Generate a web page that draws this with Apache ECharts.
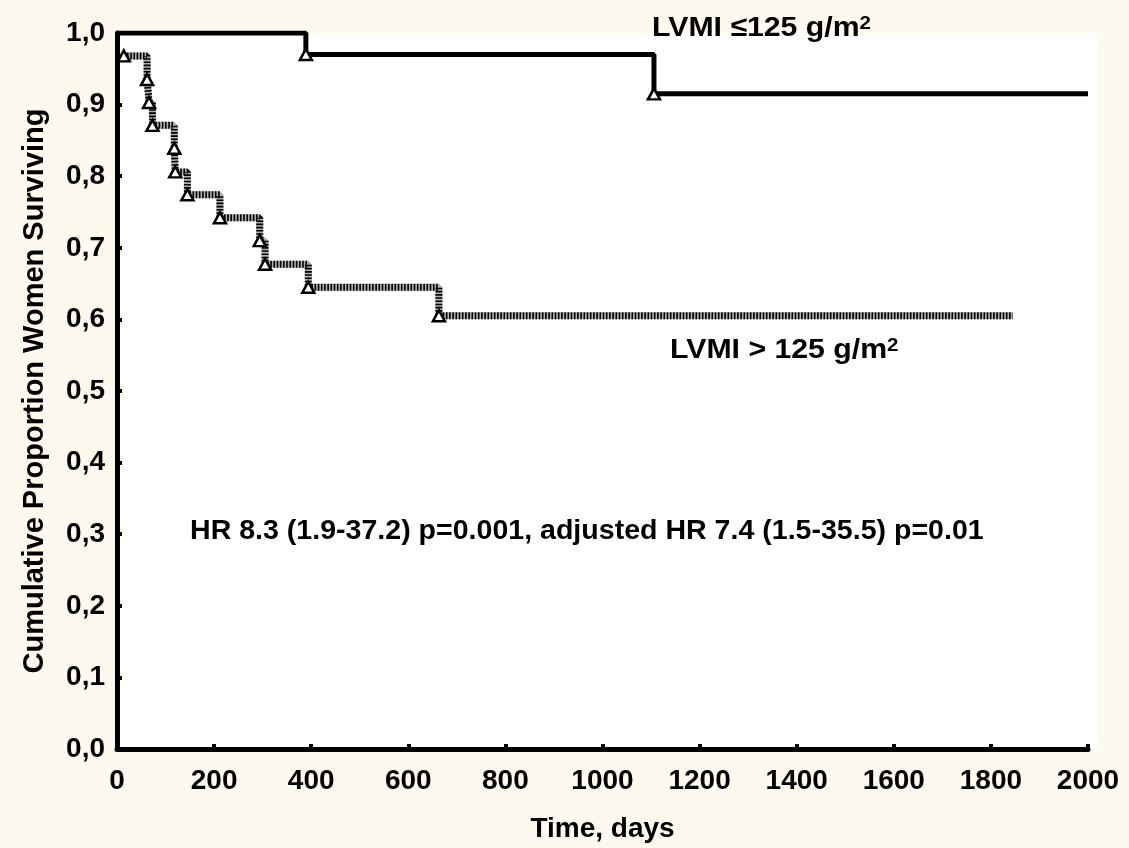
<!DOCTYPE html>
<html>
<head>
<meta charset="utf-8">
<script src="https://cdn.jsdelivr.net/npm/echarts@6/dist/echarts.min.js"></script>
<style>
  html, body { margin: 0; padding: 0; background: #fef9ee; }
  #chart { width: 1129px; height: 848px; }
</style>
</head>
<body>
<div id="chart"></div>
<script>
// LVMI <= 125 g/m2
const lowDays = [0, 389, 1106, 2000]
const lowSurv = [1.0, 0.97, 0.915, 0.915]
const lowEvent = [false, true, true, false]

// LVMI > 125 g/m2
const highDays = [14, 62, 66, 73, 118, 120, 145, 212, 294, 305, 394, 663, 1845]
const highSurv = [0.968, 0.935, 0.903, 0.871, 0.839, 0.806, 0.774, 0.742, 0.71, 0.677, 0.645, 0.605, 0.605]
const highEvent = [true, true, true, true, true, true, true, true, true, true, true, true, false]

const font = 'Liberation Sans, Arial, sans-serif'

const toData = (days, surv, ev) => days.map((d, i) => ({
  value: [d, surv[i]],
  symbol: ev[i] ? 'triangle' : 'none'
}))

const markerStyle = {
  color: '#fff',
  borderColor: '#000',
  borderWidth: 2.5
}

const labelRich = {
  t: { fontFamily: font, fontWeight: 'bold', fontSize: 28, fill: '#000' },
  s: { fontFamily: font, fontWeight: 'bold', fontSize: 19, fill: '#000', verticalAlign: 'top' }
}

const chart = echarts.init(document.getElementById('chart'))

const option = {
  backgroundColor: '#fef9ee',
  animation: false,
  grid: {
    left: 117,
    right: 41,
    top: 33,
    bottom: 99,
    show: true,
    backgroundColor: '#fff',
    borderWidth: 0
  },
  xAxis: {
    type: 'value',
    min: 0,
    max: 2000,
    interval: 200,
    name: 'Time, days',
    nameLocation: 'middle',
    nameGap: 66,
    nameTextStyle: { fontFamily: font, fontWeight: 'bold', fontSize: 28, color: '#000' },
    axisLine: { lineStyle: { color: '#000', width: 5 } },
    axisTick: { inside: true, length: 5, lineStyle: { color: '#000', width: 4 } },
    axisLabel: {
      fontFamily: font, fontWeight: 'bold', fontSize: 28, color: '#000', margin: 18,
      formatter: v => String(v)
    },
    splitLine: { show: false }
  },
  yAxis: {
    type: 'value',
    min: 0,
    max: 1,
    interval: 0.1,
    name: 'Cumulative Proportion Women Surviving',
    nameLocation: 'middle',
    nameGap: 68,
    nameTextStyle: { fontFamily: font, fontWeight: 'bold', fontSize: 29, color: '#000' },
    axisLine: { show: true, lineStyle: { color: '#000', width: 5 } },
    axisTick: { show: true, inside: true, length: 5, lineStyle: { color: '#000', width: 4 } },
    axisLabel: {
      fontFamily: font, fontWeight: 'bold', fontSize: 28, color: '#000', margin: 12,
      formatter: v => v.toFixed(1).replace('.', ',')
    },
    splitLine: { show: false }
  },
  series: [
    {
      // grey base under the hatched line
      type: 'line',
      step: 'end',
      data: toData(highDays, highSurv, highEvent),
      showSymbol: false,
      lineStyle: { color: '#b0b0b0', width: 7, cap: 'butt' },
      z: 2,
      silent: true
    },
    {
      type: 'line',
      step: 'end',
      data: toData(highDays, highSurv, highEvent),
      showSymbol: false,
      lineStyle: { color: '#000', width: 7, type: [1.6, 1.6], cap: 'butt' },
      z: 3,
      silent: true
    },
    {
      name: 'LVMI > 125',
      type: 'line',
      step: 'end',
      data: toData(highDays, highSurv, highEvent),
      showAllSymbol: true,
      symbolSize: [12, 11],
      lineStyle: { width: 0, opacity: 0 },
      itemStyle: markerStyle,
      z: 5
    },
    {
      name: 'LVMI <= 125',
      type: 'line',
      step: 'end',
      data: toData(lowDays, lowSurv, lowEvent),
      showAllSymbol: true,
      symbolSize: [12, 11],
      lineStyle: { color: '#000', width: 5 },
      itemStyle: markerStyle,
      z: 4
    }
  ],
  graphic: [
    {
      type: 'rect',
      left: 1088,
      top: 33,
      z: 0,
      shape: { width: 9, height: 716 },
      style: { fill: '#fff' }
    },
    {
      type: 'text',
      x: 652,
      y: 14,
      scaleX: 1.08,
      z: 10,
      style: { text: '{t|LVMI ≤125 g/m}{s|2}', rich: labelRich }
    },
    {
      type: 'text',
      x: 670,
      y: 336,
      scaleX: 1.08,
      z: 10,
      style: { text: '{t|LVMI > 125 g/m}{s|2}', rich: labelRich }
    },
    {
      type: 'text',
      x: 190,
      y: 517,
      scaleX: 1.02,
      z: 10,
      style: {
        text: 'HR 8.3 (1.9-37.2) p=0.001, adjusted HR 7.4 (1.5-35.5) p=0.01',
        fontFamily: font,
        fontWeight: 'bold',
        fontSize: 28,
        fill: '#000'
      }
    }
  ]
}

chart.setOption(option)
</script>
</body>
</html>
